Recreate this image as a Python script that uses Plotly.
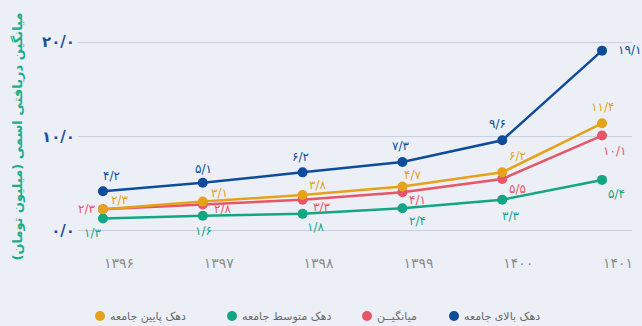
import plotly.graph_objects as go

# ---- data -------------------------------------------------------------
years = [1396, 1397, 1398, 1399, 1400, 1401]
top_decile = [4.2, 5.1, 6.2, 7.3, 9.6, 19.1]      # دهک بالای جامعه
low_decile = [2.3, 3.1, 3.8, 4.7, 6.2, 11.4]      # دهک پایین جامعه
average = [2.3, 2.8, 3.3, 4.1, 5.5, 10.1]         # میانگین
mid_decile = [1.3, 1.6, 1.8, 2.4, 3.3, 5.4]       # دهک متوسط جامعه
y_ticks = [0, 10, 20]

series_names = {
    "top": "دهک بالای جامعه",
    "avg": "میانگیــن",
    "mid": "دهک متوسط جامعه",
    "low": "دهک پایین جامعه",
}
y_title = "میانگین دریافتی اسمی (میلیون تومان)"

# ---- styling ----------------------------------------------------------
BG = "#ECF0F6"
GRID = "#C8D1E2"
C_TOP = "#0E4C9B"
C_LOW = "#E6A21A"
C_AVG = "#E85468"
C_MID = "#12A683"
FONT = "DejaVu Sans"

FA_DIGITS = str.maketrans("0123456789", "۰۱۲۳۴۵۶۷۸۹")


def fa_num(v):
    return f"{v:.1f}".replace(".", "/").translate(FA_DIGITS)


def fa_int(v):
    return str(v).translate(FA_DIGITS)


# label offsets in pixels (dx, dy) relative to each point
offsets = {
    "top": [(9, 15), (1, 14), (-2, 15), (-2, 16), (-5, 16), (27, 1)],
    "low": [(17, 9), (17, 9), (15, 10), (10, 12), (15, 16), (0, 16)],
    "avg": [(-16, 0), (20, -5), (19, -7), (15, -8), (15, -10), (12, -15)],
    "mid": [(-10, -14), (1, -15), (13, -13), (15, -13), (8, -16), (14, -14)],
}

series = [
    ("mid", mid_decile, C_MID),
    ("avg", average, C_AVG),
    ("low", low_decile, C_LOW),
    ("top", top_decile, C_TOP),
]

fig = go.Figure()
annotations = []
for key, vals, color in series:
    fig.add_trace(go.Scatter(
        x=years, y=vals, mode="lines+markers",
        line=dict(color=color, width=2.5),
        marker=dict(color=color, size=10),
        name=series_names[key], showlegend=False, hoverinfo="skip",
    ))
    for x, v, (dx, dy) in zip(years, vals, offsets[key]):
        annotations.append(dict(
            x=x, y=v, xref="x", yref="y", text=fa_num(v), showarrow=False,
            xshift=dx, yshift=dy, font=dict(family=FONT, size=12, color=color),
        ))

# plot area geometry (pixels) used to place the legend row
PL, PW, PT, PH = 78, 554, 28, 217


def px_x(px):
    return (px - PL) / PW


def px_y(py):
    return 1 - (py - PT) / PH


legend_items = [
    ("top", C_TOP, 454),
    ("avg", C_AVG, 367),
    ("mid", C_MID, 232),
    ("low", C_LOW, 100),
]
shapes = []
LEG_Y = 316
for key, color, dot_x in legend_items:
    shapes.append(dict(
        type="circle", xref="paper", yref="paper",
        xsizemode="pixel", ysizemode="pixel",
        xanchor=px_x(dot_x), yanchor=px_y(LEG_Y),
        x0=-5, x1=5, y0=-5, y1=5,
        fillcolor=color, line=dict(width=0),
    ))
    annotations.append(dict(
        x=px_x(dot_x + 8), y=px_y(LEG_Y), xref="paper", yref="paper",
        xanchor="left", yanchor="middle", showarrow=False,
        text=series_names[key], font=dict(family=FONT, size=11, color="#6B6B6B"),
    ))

annotations.append(dict(
    x=px_x(17), y=0.5, xref="paper", yref="paper", textangle=-90,
    xanchor="center", yanchor="middle", showarrow=False, text=f"<b>{y_title}</b>",
    font=dict(family=FONT, size=13, color="#19AD8C"),
))

fig.update_layout(
    width=642, height=326,
    margin=dict(l=PL, r=642 - PL - PW, t=PT, b=326 - PT - PH),
    paper_bgcolor=BG, plot_bgcolor=BG,
    showlegend=False,
    annotations=annotations,
    shapes=shapes,
    xaxis=dict(
        range=[1395.75, 1401.3], tickvals=years,
        ticktext=[fa_int(y) for y in years],
        showgrid=False, zeroline=False, showline=False, ticks="",
        tickfont=dict(family=FONT, size=14, color="#8C8C8C"),
        ticklabelstandoff=8, ticklabelshift=16,
    ),
    yaxis=dict(
        range=[-1.5, 21.5], tickvals=y_ticks,
        ticktext=[f"<b>{fa_num(v)}</b>" for v in y_ticks],
        showgrid=True, gridcolor=GRID, gridwidth=1,
        zeroline=False, showline=False, ticks="",
        tickfont=dict(family=FONT, size=15, color="#1D4F9C"),
        ticklabelstandoff=2,
    ),
)

fig.write_html("out.html")
